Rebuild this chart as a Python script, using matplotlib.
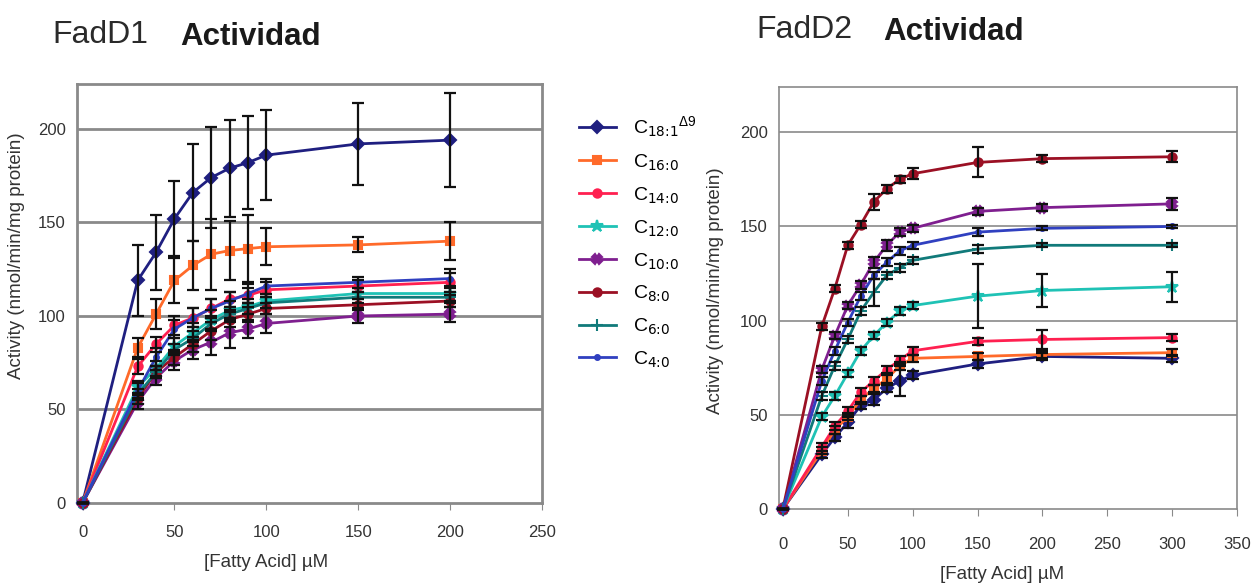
import numpy as np
import matplotlib.pyplot as plt

plt.rcParams['font.family'] = ['Liberation Sans', 'DejaVu Sans']
plt.rcParams['mathtext.default'] = 'regular'

# FadD1 data (concentration in uM, activity in nmol/min/mg protein)
conc1 = [0, 30, 40, 50, 60, 70, 80, 90, 100, 150, 200]
fadd1_c18 = [0, 119, 134, 152, 166, 174, 179, 182, 186, 192, 194]
fadd1_c18_err = [0, 19, 20, 20, 26, 27, 26, 25, 24, 22, 25]
fadd1_c16 = [0, 83, 101, 119, 127, 133, 135, 136, 137, 138, 140]
fadd1_c16_err = [0, 5, 8, 12, 13, 19, 16, 18, 10, 4, 10]
fadd1_c14 = [0, 73, 85, 95, 99, 104, 109, 111, 114, 116, 118]
fadd1_c14_err = [0, 4, 4, 5, 5, 5, 4, 4, 4, 3, 5]
fadd1_c12 = [0, 62, 72, 84, 91, 98, 103, 105, 108, 112, 112]
fadd1_c12_err = [0, 3, 4, 4, 5, 5, 5, 4, 4, 3, 4]
fadd1_c10 = [0, 54, 67, 76, 82, 86, 91, 93, 96, 100, 101]
fadd1_c10_err = [0, 4, 4, 5, 5, 7, 8, 5, 5, 4, 4]
fadd1_c8 = [0, 56, 70, 78, 85, 92, 98, 101, 104, 106, 108]
fadd1_c8_err = [0, 3, 3, 4, 4, 5, 4, 4, 3, 3, 3]
fadd1_c6 = [0, 58, 70, 82, 88, 96, 101, 104, 107, 110, 110]
fadd1_c6_err = [0, 3, 3, 3, 4, 4, 4, 3, 3, 3, 3]
fadd1_c4 = [0, 60, 78, 93, 99, 104, 108, 112, 116, 118, 120]
fadd1_c4_err = [0, 4, 5, 5, 5, 5, 5, 5, 4, 3, 5]

# FadD2 data
conc2 = [0, 30, 40, 50, 60, 70, 80, 90, 100, 150, 200, 300]
fadd2_c18 = [0, 29, 38, 46, 55, 58, 64, 68, 71, 77, 81, 80]
fadd2_c18_err = [0, 2, 2, 3, 2, 3, 2, 8, 2, 2, 2, 2]
fadd2_c16 = [0, 31, 42, 49, 58, 64, 69, 76, 80, 81, 82, 83]
fadd2_c16_err = [0, 2, 2, 2, 2, 2, 2, 2, 2, 2, 2, 2]
fadd2_c14 = [0, 33, 44, 52, 62, 68, 74, 79, 84, 89, 90, 91]
fadd2_c14_err = [0, 2, 2, 2, 2, 2, 2, 2, 2, 2, 5, 2]
fadd2_c12 = [0, 49, 60, 72, 84, 92, 99, 105, 108, 113, 116, 118]
fadd2_c12_err = [0, 2, 2, 2, 2, 2, 2, 2, 2, 17, 9, 8]
fadd2_c10 = [0, 74, 92, 108, 119, 131, 140, 147, 149, 158, 160, 162]
fadd2_c10_err = [0, 2, 2, 2, 2, 3, 3, 2, 2, 2, 2, 3]
fadd2_c8 = [0, 97, 117, 140, 151, 163, 170, 175, 178, 184, 186, 187]
fadd2_c8_err = [0, 2, 2, 2, 2, 4, 2, 2, 3, 8, 2, 3]
fadd2_c6 = [0, 60, 76, 90, 105, 115, 124, 128, 132, 138, 140, 140]
fadd2_c6_err = [0, 2, 2, 2, 2, 7, 2, 2, 2, 2, 1, 1]
fadd2_c4 = [0, 68, 84, 99, 113, 124, 131, 137, 140, 147, 149, 150]
fadd2_c4_err = [0, 2, 2, 2, 2, 2, 2, 2, 2, 2, 1, 1]

labels = [r'C$_{\text{18:1}}$$^{\Delta 9}$', r'C$_{\text{16:0}}$', r'C$_{\text{14:0}}$',
          r'C$_{\text{12:0}}$', r'C$_{\text{10:0}}$', r'C$_{\text{8:0}}$',
          r'C$_{\text{6:0}}$', r'C$_{\text{4:0}}$']

styles = [
    dict(color='#1f1f80', marker='D', ms=6),
    dict(color='#ff6a2a', marker='s', ms=6),
    dict(color='#ff2050', marker='o', ms=6),
    dict(color='#1fc2b5', marker='*', ms=9),
    dict(color='#7f1f8f', marker='X', ms=7),
    dict(color='#9b1024', marker='o', ms=6),
    dict(color='#117a7a', marker='+', ms=9),
    dict(color='#3040c0', marker='o', ms=3.5),
]

fadd1 = [(fadd1_c18, fadd1_c18_err), (fadd1_c16, fadd1_c16_err), (fadd1_c14, fadd1_c14_err),
         (fadd1_c12, fadd1_c12_err), (fadd1_c10, fadd1_c10_err), (fadd1_c8, fadd1_c8_err),
         (fadd1_c6, fadd1_c6_err), (fadd1_c4, fadd1_c4_err)]
fadd2 = [(fadd2_c18, fadd2_c18_err), (fadd2_c16, fadd2_c16_err), (fadd2_c14, fadd2_c14_err),
         (fadd2_c12, fadd2_c12_err), (fadd2_c10, fadd2_c10_err), (fadd2_c8, fadd2_c8_err),
         (fadd2_c6, fadd2_c6_err), (fadd2_c4, fadd2_c4_err)]

fig = plt.figure(figsize=(12.55, 5.86), dpi=100)
ax1 = fig.add_axes([0.0614, 0.1416, 0.3705, 0.715])
ax2 = fig.add_axes([0.6207, 0.1314, 0.365, 0.720])


def draw_panel(ax, conc, series, xmax, grid_lw):
    handles = []
    for (vals, err), st in zip(series, styles):
        line, = ax.plot(conc, vals, color=st['color'], lw=2, marker=st['marker'],
                        ms=st['ms'], mfc=st['color'], mec=st['color'], mew=1.5,
                        zorder=3, clip_on=False)
        ax.errorbar(conc, vals, yerr=err, fmt='none', ecolor='#111111',
                    elinewidth=1.6, capsize=4, capthick=1.6, zorder=4, clip_on=False)
        handles.append(line)
    ax.set_xlim(-3, xmax)
    ax.set_ylim(0, 224)
    ax.set_yticks([0, 50, 100, 150, 200])
    ax.set_xticks(np.arange(0, xmax + 1, 50))
    for y in [50, 100, 150, 200]:
        ax.axhline(y, color='#8a8a8a', lw=grid_lw, zorder=1)
    for side in ['top', 'right', 'bottom', 'left']:
        ax.spines[side].set_color('#8a8a8a')
        ax.spines[side].set_linewidth(grid_lw)
    ax.tick_params(axis='x', direction='out', length=5, color='#8a8a8a',
                   labelsize=12, labelcolor='#333333', pad=11)
    ax.tick_params(axis='y', length=0, labelsize=12, labelcolor='#333333', pad=8)
    ax.set_xlabel('[Fatty Acid] \u00b5M', fontsize=13.5, color='#333333')
    ax.set_ylabel('Activity (nmol/min/mg protein)', fontsize=13.5, color='#333333')
    return handles


handles = draw_panel(ax1, conc1, fadd1, 250, 2.0)
ax1.xaxis.set_label_coords(0.406, -0.122)
ax1.yaxis.set_label_coords(-0.112, 0.59)

draw_panel(ax2, conc2, fadd2, 350, 1.2)
ax2.tick_params(axis='x', pad=15)
ax2.xaxis.set_label_coords(0.487, -0.135)
ax2.yaxis.set_label_coords(-0.12, 0.517)

fig.legend(handles, labels, loc='upper left', bbox_to_anchor=(0.455, 0.818),
           frameon=False, fontsize=14, handlelength=1.9, handletextpad=0.9,
           labelspacing=0.66, borderaxespad=0)

# panel titles
fig.text(0.0415, 0.927, 'FadD1', fontsize=23, color='#2a2a2a', va='baseline')
fig.text(0.1435, 0.923, 'Actividad', fontsize=22.5, fontweight='bold', color='#1a1a1a', va='baseline')
fig.text(0.603, 0.935, 'FadD2', fontsize=23, color='#2a2a2a', va='baseline')
fig.text(0.7035, 0.931, 'Actividad', fontsize=22.5, fontweight='bold', color='#1a1a1a', va='baseline')

fig.savefig('out.png', dpi=100)
